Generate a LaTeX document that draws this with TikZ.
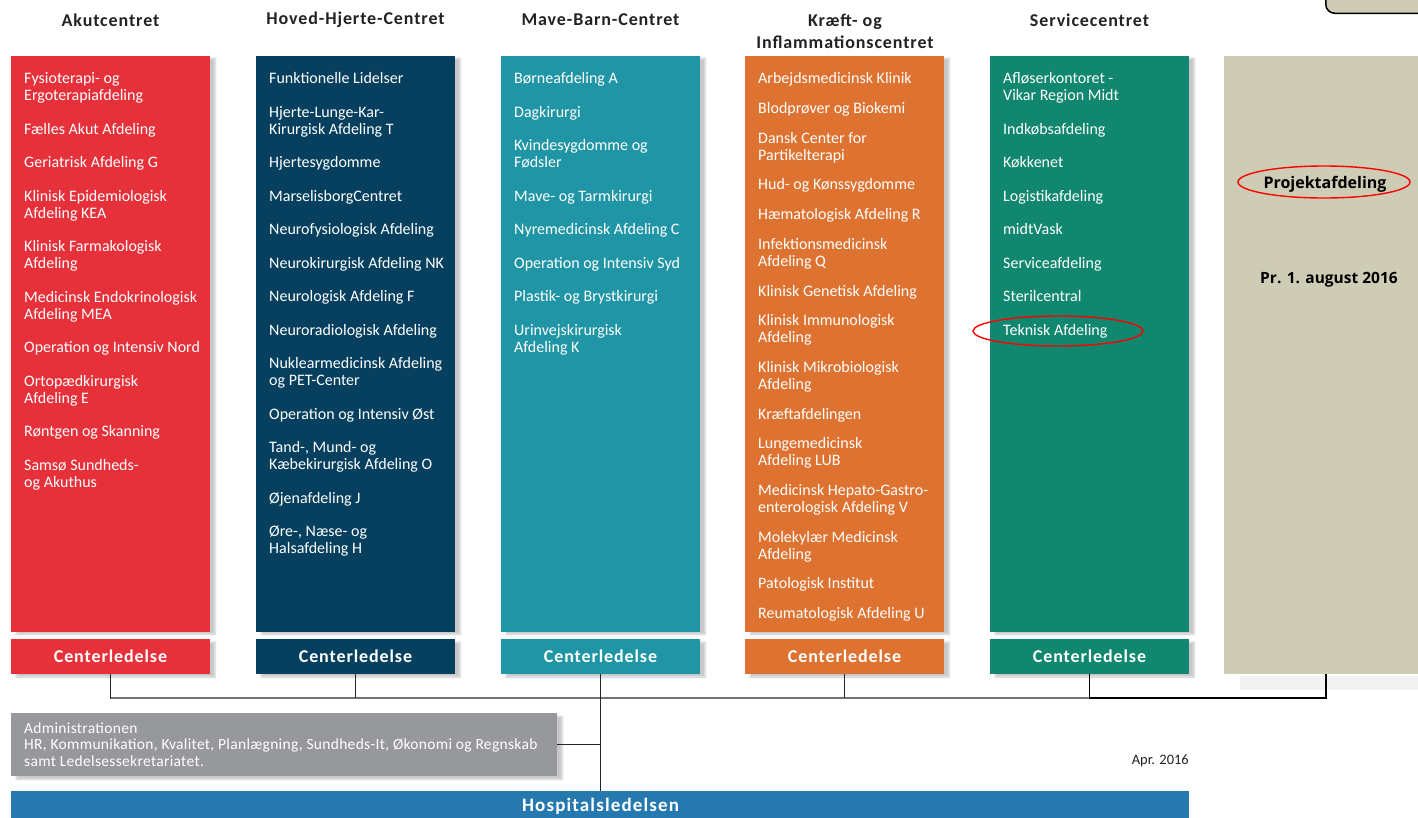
\documentclass[tikz,border=0pt]{standalone}
\usepackage{fontspec}
\setmainfont{Carlito}
\newfontfamily\projfont{Open Sans}
\usetikzlibrary{shapes.geometric,shadows.blur}

\definecolor{akutred}{HTML}{E6303A}
\definecolor{hovednavy}{HTML}{06405E}
\definecolor{maveteal}{HTML}{2095A5}
\definecolor{kraeftorange}{HTML}{DE7230}
\definecolor{servicegreen}{HTML}{10876E}
\definecolor{projbeige}{HTML}{CECCB5}
\definecolor{admingray}{HTML}{97989C}
\definecolor{hospblue}{HTML}{2679AE}
\definecolor{headgray}{HTML}{222222}

\newcommand{\nx}{\\[16.5pt]}
\newcommand{\nxk}{\\[12.7pt]}

\tikzset{
  colbox/.style={anchor=north west, minimum width=199pt, minimum height=576pt, inner sep=0pt,
    blur shadow={shadow xshift=5pt, shadow yshift=-2pt, shadow blur steps=6, shadow opacity=22}},
  leadbox/.style={minimum width=199pt, minimum height=35pt, inner sep=0pt, text=white,
    font=\fontsize{18}{20}\selectfont\bfseries\addfontfeature{LetterSpace=5},
    blur shadow={shadow xshift=5pt, shadow yshift=-3pt, shadow blur steps=6, shadow opacity=22}},
  itemlist/.style={anchor=north west, inner sep=0pt, align=left, text=white,
    font=\fontsize{16}{17}\selectfont},
  colhead/.style={text=headgray, align=center,
    font=\fontsize{18}{22}\selectfont\bfseries\addfontfeature{LetterSpace=5}},
  ring/.style={ellipse, draw=red, line width=1.4pt, inner sep=0pt},
  wire/.style={draw=black!85, line width=1.2pt}
}

\begin{document}
\begin{tikzpicture}[x=1pt,y=-1pt]
\useasboundingbox (0,0) rectangle (1418,817);
\clip (0,0) rectangle (1418,817);

% top right corner box
\node[draw=black, fill=projbeige, line width=1.5pt, rounded corners=9pt, anchor=south west,
  minimum width=130pt, minimum height=40pt] (corner) at (1325,14) {};

% headers
\node[colhead] (akuthead) at (110.5,20) {Akutcentret};
\node[colhead] (hovedhead) at (355.5,20) {Hoved-Hjerte-Centret};
\node[colhead] (mavehead) at (600.5,20) {Mave-Barn-Centret};
\node[colhead] (kraefthead) at (845,31) {Kræft- og\\Inflammationscentret};
\node[colhead] (servicehead) at (1089.5,20) {Servicecentret};

% columns
\node[colbox, fill=akutred] (akut) at (11,56) {};
\node[colbox, fill=hovednavy] (hoved) at (256,56) {};
\node[colbox, fill=maveteal] (mave) at (501,56) {};
\node[colbox, fill=kraeftorange] (kraeft) at (745,56) {};
\node[colbox, fill=servicegreen] (service) at (990,56) {};
\fill[black!5] (1240,676) rectangle (1418,690);
\node[anchor=north west, fill=projbeige, minimum width=204pt, minimum height=618pt, inner sep=0pt]
  (projekt) at (1224,56) {};

\node[itemlist] (akutlist) at (24,72.5) {Fysioterapi- og\\Ergoterapiafdeling\nx
  Fælles Akut Afdeling\nx Geriatrisk Afdeling G\nx
  Klinisk Epidemiologisk\\Afdeling KEA\nx Klinisk Farmakologisk\\Afdeling\nx
  Medicinsk Endokrinologisk\\Afdeling MEA\nx Operation og Intensiv Nord\nx
  Ortopædkirurgisk\\Afdeling E\nx Røntgen og Skanning\nx Samsø Sundheds-\\og Akuthus};
\node[itemlist] (hovedlist) at (269,72.5) {Funktionelle Lidelser\nx
  Hjerte-Lunge-Kar-\\Kirurgisk Afdeling T\nx Hjertesygdomme\nx MarselisborgCentret\nx
  Neurofysiologisk Afdeling\nx Neurokirurgisk Afdeling NK\nx Neurologisk Afdeling F\nx
  Neuroradiologisk Afdeling\nx Nuklearmedicinsk Afdeling\\og PET-Center\nx
  Operation og Intensiv Øst\nx Tand-, Mund- og\\Kæbekirurgisk Afdeling O\nx
  Øjenafdeling J\nx Øre-, Næse- og\\Halsafdeling H};
\node[itemlist] (mavelist) at (514,72.5) {Børneafdeling A\nx Dagkirurgi\nx
  Kvindesygdomme og\\Fødsler\nx Mave- og Tarmkirurgi\nx Nyremedicinsk Afdeling C\nx
  Operation og Intensiv Syd\nx Plastik- og Brystkirurgi\nx Urinvejskirurgisk\\Afdeling K};
\node[itemlist] (kraeftlist) at (758,72.5) {Arbejdsmedicinsk Klinik\nxk
  Blodprøver og Biokemi\nxk Dansk Center for\\Partikelterapi\nxk Hud- og Kønssygdomme\nxk
  Hæmatologisk Afdeling R\nxk Infektionsmedicinsk\\Afdeling Q\nxk Klinisk Genetisk Afdeling\nxk
  Klinisk Immunologisk\\Afdeling\nxk Klinisk Mikrobiologisk\\Afdeling\nxk Kræftafdelingen\nxk
  Lungemedicinsk\\Afdeling LUB\nxk Medicinsk Hepato-Gastro-\\enterologisk Afdeling V\nxk
  Molekylær Medicinsk\\Afdeling\nxk Patologisk Institut\nxk Reumatologisk Afdeling U};
\node[itemlist] (servicelist) at (1003,72.5) {Afløserkontoret -\\Vikar Region Midt\nx
  Indkøbsafdeling\nx Køkkenet\nx Logistikafdeling\nx midtVask\nx Serviceafdeling\nx
  Sterilcentral\nx Teknisk Afdeling};

% project column
\node[font=\projfont\fontsize{16}{18}\selectfont\bfseries, text=black] (projtxt) at (1325,184) {Projektafdeling};
\node[ring, minimum width=172pt, minimum height=32pt] (projring) at (1324,182) {};
\node[font=\projfont\fontsize{15.5}{18}\selectfont\bfseries, text=black] (projdate) at (1329,279.5) {Pr. 1. august 2016};
\node[ring, minimum width=170pt, minimum height=30pt] (teknring) at (1058,331) {};

% centerledelse
\node[leadbox, fill=akutred] (akutled) at (110.5,656.5) {Centerledelse};
\node[leadbox, fill=hovednavy] (hovedled) at (355.5,656.5) {Centerledelse};
\node[leadbox, fill=maveteal] (maveled) at (600.5,656.5) {Centerledelse};
\node[leadbox, fill=kraeftorange] (kraeftled) at (844.5,656.5) {Centerledelse};
\node[leadbox, fill=servicegreen] (serviceled) at (1089.5,656.5) {Centerledelse};

% administration and hospital management
\node[anchor=north west, fill=admingray, minimum width=546pt, minimum height=63pt, inner sep=0pt,
  blur shadow={shadow xshift=5pt, shadow yshift=-3pt, shadow blur steps=6, shadow opacity=22}]
  (admin) at (11,713) {};
\node[anchor=north west, inner sep=0pt, align=left, text=white,
  font=\fontsize{15.5}{16.5}\selectfont\addfontfeature{LetterSpace=2}]
  (admintxt) at (24,722.5) {Administrationen\\HR, Kommunikation, Kvalitet, Planlægning, Sundheds-It, Økonomi og Regnskab\\samt Ledelsessekretariatet.};
\node[anchor=east, inner sep=0pt, text=headgray, font=\fontsize{14.5}{16}\selectfont] (apr) at (1189,761) {Apr. 2016};
\node[anchor=north west, fill=hospblue, minimum width=1178pt, minimum height=40pt, inner sep=0pt]
  (hosp) at (11,791) {};
\node[text=white, font=\fontsize{19}{20}\selectfont\bfseries\addfontfeature{LetterSpace=6}] (hosptxt) at (600.5,806) {Hospitalsledelsen};

% connectors
\draw[wire] (akutled.south) -- ++(0,24) coordinate (busl) -| (serviceled.south);
\draw[draw=black!55, line width=1.6pt] (busl) -- (busl -| serviceled.south);
\draw[wire] (hovedled.south) -- ++(0,24);
\draw[wire] (kraeftled.south) -- ++(0,24);
\draw[wire] (maveled.south) -- (hosp.north -| maveled.south);
\draw[wire] (admin.east) -- (admin.east -| maveled.south);
\draw[black, line width=1.8pt] (serviceled.south) -- ++(0,24) -| (projekt.south);
\end{tikzpicture}
\end{document}
